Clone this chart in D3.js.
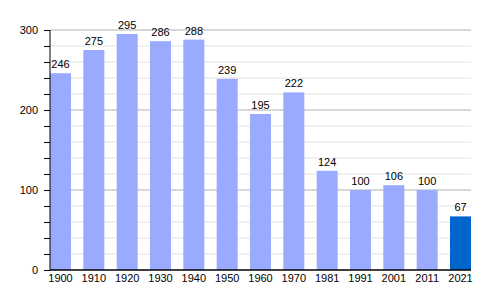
<!DOCTYPE html>
<html>
<head>
<meta charset="utf-8">
<script src="https://cdn.jsdelivr.net/npm/d3@7"></script>
<style>
  body { margin: 0; background: #fff; }
  text { font-family: "Liberation Sans", Arial, sans-serif; }
</style>
</head>
<body>
<div id="vis"></div>
<script>
const width = 500;
const height = 300;

const years = ['1900', '1910', '1920', '1930', '1940', '1950', '1960', '1970', '1981', '1991', '2001', '2011', '2021'];
const population = [246, 275, 295, 286, 288, 239, 195, 222, 124, 100, 106, 100, 67];
const yTicks = [0, 100, 200, 300];

const plotLeft = 50, plotRight = 471, plotTop = 30, plotBottom = 270;

const svg = d3.select('#vis').append('svg')
  .attr('width', width)
  .attr('height', height);

const x = d3.scaleBand()
  .domain(years)
  .range([plotLeft, plotRight])
  .paddingInner(0.37)
  .paddingOuter(0);

const y = d3.scaleLinear()
  .domain([0, 300])
  .range([plotBottom, plotTop]);

// minor grid every 20
svg.append('g')
  .selectAll('line')
  .data(d3.range(20, 301, 20).filter(v => v % 100 !== 0))
  .enter().append('line')
  .attr('x1', plotLeft)
  .attr('x2', plotRight)
  .attr('y1', d => y(d))
  .attr('y2', d => y(d))
  .attr('stroke', '#e2e2e2')
  .attr('stroke-width', 1);

// major grid
svg.append('g')
  .selectAll('line')
  .data(yTicks.filter(v => v > 0))
  .enter().append('line')
  .attr('x1', plotLeft)
  .attr('x2', plotRight)
  .attr('y1', d => y(d))
  .attr('y2', d => y(d))
  .attr('stroke', '#b0b0b0')
  .attr('stroke-width', 1);

// bars
svg.append('g')
  .selectAll('rect')
  .data(population)
  .enter().append('rect')
  .attr('x', (d, i) => x(years[i]))
  .attr('y', d => y(d))
  .attr('width', x.bandwidth())
  .attr('height', d => y(0) - y(d))
  .attr('fill', (d, i) => i === years.length - 1 ? '#0066cc' : '#99aaff');

// value labels
svg.append('g')
  .selectAll('text')
  .data(population)
  .enter().append('text')
  .attr('x', (d, i) => x(years[i]) + x.bandwidth() / 2)
  .attr('y', d => y(d) - 5)
  .attr('text-anchor', 'middle')
  .attr('font-size', 11)
  .attr('fill', '#000')
  .text(d => d);

// y axis
const yAxis = svg.append('g')
  .attr('transform', `translate(${plotLeft},0)`)
  .call(d3.axisLeft(y).tickValues(d3.range(0, 301, 20)).tickSize(6).tickFormat(d => d % 100 === 0 ? d : ''));
yAxis.select('.domain').attr('stroke', '#000').attr('d', `M0,${plotBottom}V${plotTop}`);
yAxis.selectAll('.tick line').attr('stroke', '#000');
yAxis.selectAll('.tick text')
  .attr('x', -12)
  .attr('font-size', 11)
  .attr('font-family', '"Liberation Sans", Arial, sans-serif')
  .attr('fill', '#000');

// x axis
const xAxis = svg.append('g')
  .attr('transform', `translate(0,${plotBottom})`)
  .call(d3.axisBottom(x).tickSize(0).tickPadding(4));
xAxis.select('.domain').attr('stroke', '#000').attr('stroke-width', 1.5).attr('d', `M${plotLeft},0H${plotRight}`);
xAxis.selectAll('.tick text')
  .attr('font-size', 11)
  .attr('font-family', '"Liberation Sans", Arial, sans-serif')
  .attr('fill', '#000');
</script>
</body>
</html>
